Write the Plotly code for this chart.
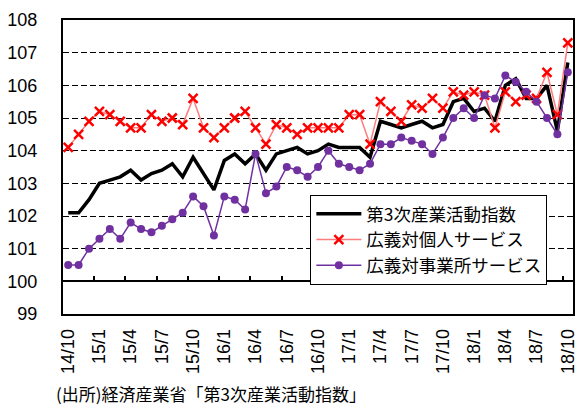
import plotly.graph_objects as go

# Monthly series, 2014/10 .. 2018/10 (49 months)
tertiary_index = [102.1, 102.1, 102.5, 103.0, 103.1, 103.2, 103.4, 103.1, 103.3, 103.4,
                  103.6, 103.2, 103.8, 103.3, 102.8, 103.7, 103.9, 103.6, 103.9, 103.4,
                  103.9, 104.0, 104.1, 103.9, 104.0, 104.2, 104.1, 104.1, 104.1, 103.8,
                  104.9, 104.8, 104.7, 104.8, 104.9, 104.7, 104.8, 105.5, 105.6, 105.2,
                  105.3, 104.9, 106.0, 106.2, 105.6, 105.6, 106.0, 104.6, 106.7]
personal_services = [104.1, 104.5, 104.9, 105.2, 105.1, 104.9, 104.7, 104.7, 105.1, 104.9,
                     105.0, 104.8, 105.6, 104.7, 104.4, 104.7, 105.0, 105.2, 104.7, 104.2,
                     104.8, 104.7, 104.5, 104.7, 104.7, 104.7, 104.7, 105.1, 105.1, 104.2,
                     105.5, 105.2, 104.9, 105.4, 105.3, 105.6, 105.3, 105.8, 105.7, 105.8,
                     105.7, 104.7, 105.8, 105.5, 105.7, 105.6, 106.4, 105.1, 107.3]
business_services = [100.5, 100.5, 101.0, 101.3, 101.6, 101.3, 101.8, 101.6, 101.5, 101.7,
                     101.9, 102.1, 102.6, 102.3, 101.4, 102.6, 102.5, 102.2, 103.9, 102.7,
                     102.9, 103.5, 103.4, 103.2, 103.5, 104.0, 103.6, 103.5, 103.4, 103.6,
                     104.2, 104.2, 104.4, 104.3, 104.2, 103.9, 104.4, 105.0, 105.3, 105.0,
                     105.7, 105.6, 106.3, 106.1, 105.8, 105.5, 105.0, 104.5, 106.4]

tick_labels = ["14/10", "15/1", "15/4", "15/7", "15/10", "16/1", "16/4", "16/7", "16/10",
               "17/1", "17/4", "17/7", "17/10", "18/1", "18/4", "18/7", "18/10"]
label_step = 3

series_names = ["第3次産業活動指数", "広義対個人サービス", "広義対事業所サービス"]
source_text = "(出所)経済産業省「第3次産業活動指数」"

x = list(range(len(tertiary_index)))
label_pos = [i * label_step for i in range(len(tick_labels))]
tick_pos = [p - 0.5 for p in label_pos[1:]]
xr = [-0.5, len(x) - 0.5]

NUM_FONT = "Liberation Sans, Arial, sans-serif"
JP_FONT = "Noto Sans CJK JP, sans-serif"

fig = go.Figure()
fig.add_trace(go.Scatter(x=x, y=tertiary_index, name=series_names[0], mode="lines",
                         line=dict(color="black", width=3.5)))
fig.add_trace(go.Scatter(x=x, y=personal_services, name=series_names[1], mode="lines+markers",
                         line=dict(color="#FF7C7C", width=1.5),
                         marker=dict(symbol="x-thin", size=9, color="#FF0000",
                                     line=dict(color="#FF0000", width=2.5))))
fig.add_trace(go.Scatter(x=x, y=business_services, name=series_names[2], mode="lines+markers",
                         line=dict(color="#7030A0", width=1.5),
                         marker=dict(symbol="circle", size=8, color="#7030A0")))
# invisible helper trace so the inner axis (at 100) is drawn
fig.add_trace(go.Scatter(x=x, y=tertiary_index, xaxis="x2", mode="lines",
                         line=dict(width=0), opacity=0, showlegend=False, hoverinfo="skip"))

fig.update_layout(
    width=581, height=405,
    margin=dict(l=63, r=3, t=20, b=91),
    plot_bgcolor="white", paper_bgcolor="white",
    showlegend=True,
    legend=dict(x=0.485, y=0.405, xanchor="left", yanchor="top",
                bgcolor="white", bordercolor="black", borderwidth=1,
                font=dict(family=JP_FONT, size=17.5, color="black"),
                itemwidth=45, tracegroupgap=0),
    xaxis=dict(range=xr, tickmode="array", tickvals=label_pos, ticktext=tick_labels,
               tickangle=-90, ticks="", showgrid=False, zeroline=False,
               showline=True, linecolor="black", linewidth=1.5, mirror=True,
               tickfont=dict(family=NUM_FONT, size=18, color="black"),
               ticklabelstandoff=6),
    xaxis2=dict(range=xr, overlaying="x", anchor="free", position=1 / 9,
                tickmode="array", tickvals=tick_pos, ticks="inside", ticklen=5,
                tickwidth=1.5, tickcolor="black", showticklabels=False,
                showgrid=False, zeroline=False,
                showline=True, linecolor="black", linewidth=1.5),
    yaxis=dict(range=[99, 108], dtick=1, tick0=99, showgrid=True, gridcolor="black",
               gridwidth=1.3, griddash="6px,3px", zeroline=False,
               showline=True, linecolor="black", linewidth=2, mirror=True, ticks="",
               tickfont=dict(family=NUM_FONT, size=18, color="black"),
               ticklabelstandoff=20),
)

fig.add_annotation(text=source_text, xref="paper", yref="paper",
                   x=-0.018, y=-0.27, xanchor="left", yanchor="middle",
                   showarrow=False, font=dict(family=JP_FONT, size=17, color="black"))

fig.write_html("out.html")
